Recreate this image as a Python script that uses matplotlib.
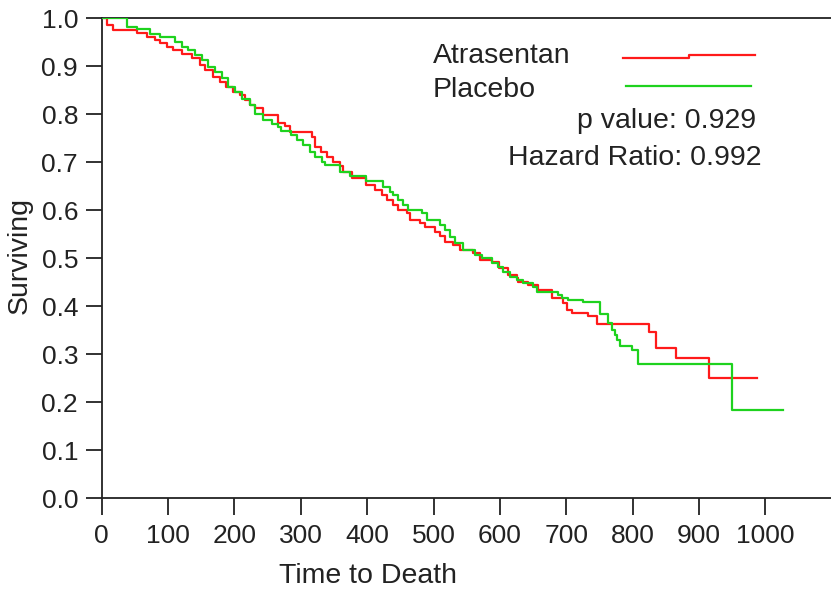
import matplotlib
matplotlib.use("Agg")
import matplotlib.pyplot as plt

# Kaplan-Meier step curves (time, surviving)
atr_t = [0, 7.5, 17.5, 52.7, 67.8, 80.3, 87.9, 97.9, 108, 120.5,
         135.6, 148, 155.7, 168, 178, 188, 198, 208, 216, 223.5,
         231, 243.5, 266, 276, 284, 317.5, 322, 331, 339, 349,
         359, 364, 377, 399, 412, 422, 429.5, 439.5, 447, 459.6,
         464.6, 479.7, 487, 502, 510, 517, 530, 540, 560, 570,
         588, 598, 612.8, 625.4, 628, 643, 658, 678, 695.7, 700.7,
         708, 733, 746, 824, 836, 866, 915, 988]
atr_s = [1.0, 0.985, 0.976, 0.968, 0.961, 0.954, 0.947, 0.940, 0.933, 0.926,
         0.916, 0.902, 0.892, 0.878, 0.867, 0.857, 0.846, 0.840, 0.829, 0.819,
         0.812, 0.798, 0.782, 0.774, 0.763, 0.753, 0.732, 0.7215, 0.711, 0.700,
         0.692, 0.680, 0.666, 0.652, 0.642, 0.631, 0.621, 0.610, 0.600, 0.593,
         0.579, 0.572, 0.565, 0.555, 0.545, 0.534, 0.527, 0.517, 0.510, 0.496,
         0.4925, 0.480, 0.465, 0.458, 0.451, 0.444, 0.433, 0.416, 0.406, 0.392,
         0.385, 0.379, 0.363, 0.345, 0.312, 0.291, 0.250, 0.250]

pla_t = [0, 37.6, 52.7, 72.8, 87.8, 110, 120.5, 130.5, 140.6, 150.6,
         160.7, 170.7, 180.8, 190.8, 200.9, 211, 223, 231, 243.5, 256,
         266, 270, 286, 294, 304, 314, 321, 331.5, 336.5, 359,
         374, 399, 424.5, 434.5, 439.5, 447, 454.6, 462, 482, 490,
         510, 517, 525, 532.5, 545, 562.6, 572.6, 587.7, 597.8, 605.3,
         615.3, 625.4, 635.4, 650.5, 655.5, 688, 693, 703, 726, 751,
         763.5, 768.5, 773.5, 776, 781, 798.6, 808.7, 950.3, 1027]
pla_s = [1.0, 0.981, 0.978, 0.967, 0.960, 0.950, 0.940, 0.933, 0.922, 0.912,
         0.898, 0.8875, 0.874, 0.856, 0.846, 0.832, 0.819, 0.801, 0.7875, 0.780,
         0.7736, 0.765, 0.756, 0.746, 0.735, 0.7215, 0.711, 0.701, 0.694, 0.680,
         0.670, 0.660, 0.6486, 0.638, 0.631, 0.621, 0.610, 0.600, 0.593, 0.579,
         0.569, 0.5585, 0.5446, 0.531, 0.517, 0.5064, 0.4994, 0.489, 0.482, 0.4716,
         0.4612, 0.4542, 0.4473, 0.4403, 0.430, 0.423, 0.416, 0.4126, 0.4077, 0.383,
         0.364, 0.350, 0.340, 0.329, 0.317, 0.308, 0.279, 0.1835, 0.1835]

group_names = ["Atrasentan", "Placebo"]
group_colors = ["#ff1a1a", "#1ed21e"]
stats_text = ["p value: 0.929", "Hazard Ratio: 0.992"]

x_ticks = list(range(0, 1001, 100))
y_ticks = [i / 10 for i in range(11)]

ink = '#222222'
plt.rcParams['font.family'] = ['Liberation Sans', 'DejaVu Sans']

fig = plt.figure(figsize=(8.31, 5.90), dpi=100)
ax = fig.add_axes([101.7 / 831, 92 / 590, 729.3 / 831, 480 / 590])

ax.step(atr_t, atr_s, where='post', color=group_colors[0], lw=1.6, zorder=3)
ax.step(pla_t, pla_s, where='post', color=group_colors[1], lw=1.6, zorder=3)

ax.set_xlim(0, 1099)
ax.set_ylim(0, 1.0)
ax.set_xticks(x_ticks)
ax.set_yticks(y_ticks)
ax.set_yticklabels(["%.1f" % v for v in y_ticks])

for side in ['left', 'bottom', 'top']:
    ax.spines[side].set_linewidth(1.3)
    ax.spines[side].set_color(ink)
ax.spines['right'].set_visible(False)

ax.tick_params(axis='y', direction='out', length=11.5, width=1.3, pad=5.5,
               labelsize=19, colors=ink)
ax.tick_params(axis='x', direction='out', length=12, width=1.3, pad=7,
               labelsize=19, colors=ink)

ax.set_xlabel("Time to Death", fontsize=20.5, color=ink)
ax.xaxis.set_label_coords(0.3645, -0.135)
ax.set_ylabel("Surviving", fontsize=20.5, color=ink)
ax.yaxis.set_label_coords(-0.094, 0.506)

# legend drawn by hand: names left aligned, sample lines to the right
ax.text(0.4543, 0.9056, group_names[0], transform=ax.transAxes, ha='left',
        va='baseline', fontsize=20.5, color=ink)
ax.text(0.4543, 0.836, group_names[1], transform=ax.transAxes, ha='left',
        va='baseline', fontsize=20.5, color=ink)
# the red sample has a tiny kink in the original
ax.plot([0.7148, 0.8053, 0.8053, 0.8957], [0.9173, 0.9173, 0.9223, 0.9223],
        transform=ax.transAxes, color=group_colors[0], lw=1.6, clip_on=False)
ax.plot([0.719, 0.8903], [0.8583, 0.8583],
        transform=ax.transAxes, color=group_colors[1], lw=1.6, clip_on=False)

ax.text(0.898, 0.770, stats_text[0], transform=ax.transAxes, ha='right',
        va='baseline', fontsize=20.5, color=ink)
ax.text(0.905, 0.694, stats_text[1], transform=ax.transAxes, ha='right',
        va='baseline', fontsize=20.5, color=ink)

fig.savefig("out.png", dpi=100)
